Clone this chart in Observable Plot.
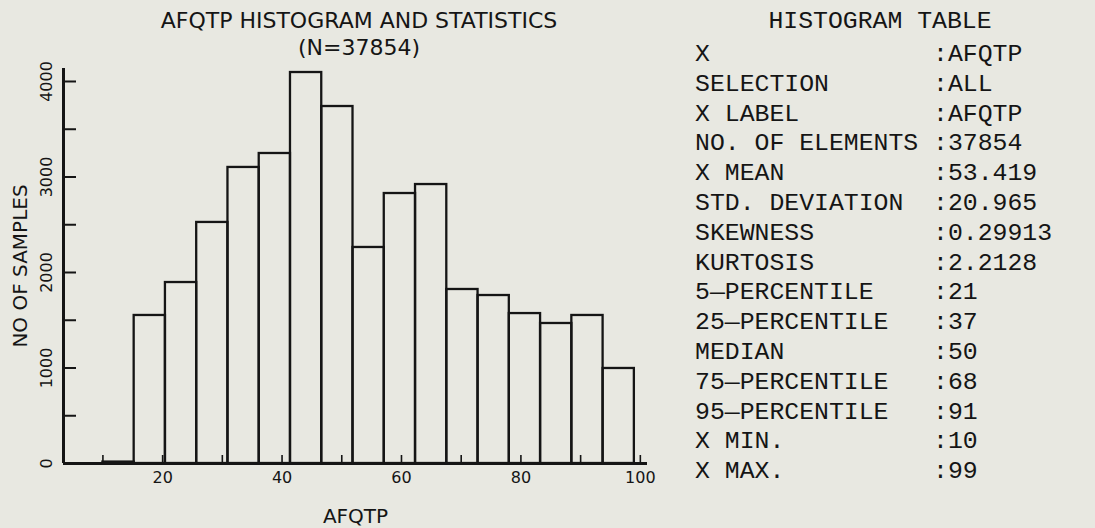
<!DOCTYPE html>
<html><head><meta charset="utf-8">
<script src="https://cdn.jsdelivr.net/npm/d3@7"></script>
<script src="https://cdn.jsdelivr.net/npm/@observablehq/plot@0.6"></script>
<style>
html,body{margin:0;padding:0;background:#e8e8e1;}
#wrap{position:relative;width:1095px;height:528px;overflow:hidden;font-family:"DejaVu Sans",sans-serif;color:#151515;}
#chart{position:absolute;left:0;top:0;}
#title{position:absolute;left:0;width:718px;top:7px;text-align:center;font-size:22px;line-height:27px;z-index:2;}
#tblhead{position:absolute;left:680px;width:400px;top:7px;text-align:center;font-family:"Liberation Mono",monospace;font-size:24.8px;line-height:29.8px;white-space:pre;}
#tbl{position:absolute;left:695px;top:40px;font-family:"Liberation Mono",monospace;font-size:24.8px;line-height:29.8px;white-space:pre;}
</style></head>
<body>
<div id="wrap">
  <div id="chart"></div>
  <div id="title"></div>
  <div id="tblhead"></div>
  <div id="tbl"></div>
</div>
<script>
// ---- data ----
const titleLines = ["AFQTP HISTOGRAM AND STATISTICS", "(N=37854)"];
const xMin = 10, xMax = 99, binCount = 17;
const counts = [15, 1550, 1895, 2524, 3100, 3246, 4094, 3738, 2262, 2827, 2921, 1822, 1759, 1570, 1466, 1550, 995];
const xTickLabels = [20, 40, 60, 80, 100];
const xMinorTicks = [10, 20, 30, 40, 50, 60, 70, 80, 90, 100];
const yTickLabels = [0, 1000, 2000, 3000, 4000];
const yMinorTicks = [0, 500, 1000, 1500, 2000, 2500, 3000, 3500, 4000];
const xLabel = "AFQTP";
const yLabel = "NO OF SAMPLES";
const tableTitle = "HISTOGRAM TABLE";
const tableKeys = ["X", "SELECTION", "X LABEL", "NO. OF ELEMENTS", "X MEAN", "STD. DEVIATION", "SKEWNESS", "KURTOSIS",
  "5\u2014PERCENTILE", "25\u2014PERCENTILE", "MEDIAN", "75\u2014PERCENTILE", "95\u2014PERCENTILE", "X MIN.", "X MAX."];
const tableValues = ["AFQTP", "ALL", "AFQTP", "37854", "53.419", "20.965", "0.29913", "2.2128",
  "21", "37", "50", "68", "91", "10", "99"];

// ---- build ----
document.getElementById("title").innerHTML = titleLines.map(t => `<div>${t}</div>`).join("");
document.getElementById("tblhead").textContent = tableTitle;
document.getElementById("tbl").textContent = tableKeys.map((k, i) => k.padEnd(16, " ") + ":" + tableValues[i]).join("\n");

const binW = (xMax - xMin) / binCount;
const bins = counts.map((c, i) => ({x1: xMin + i * binW, x2: xMin + (i + 1) * binW, count: c}));
const xDomain = [3.4, 101.2];
const ink = "#151515";

const chart = Plot.plot({
  width: 680, height: 528,
  marginLeft: 63, marginRight: 33, marginTop: 68, marginBottom: 65,
  style: {background: "transparent", color: ink, fontFamily: "DejaVu Sans, sans-serif", overflow: "visible"},
  x: {domain: xDomain},
  y: {domain: [0, 4136]},
  marks: [
    Plot.rectY(bins, {x1: "x1", x2: "x2", y: "count", fill: "none", stroke: ink, strokeWidth: 2.3, inset: 0}),
    Plot.axisX(xMinorTicks, {tickSize: -8, strokeWidth: 1.6, tickFormat: () => "", label: null}),
    Plot.axisX(xTickLabels, {tickSize: 0, tickPadding: 8, fontSize: 16, label: null}),
    Plot.axisY(yMinorTicks, {tickSize: -13, strokeWidth: 2, tickFormat: () => "", label: null}),
    Plot.text(yTickLabels, {y: d => d, text: d => String(d), frameAnchor: "left", textAnchor: "middle", lineAnchor: "middle", dx: -17, rotate: -90, fontSize: 16, fill: ink}),
    Plot.text([yLabel], {frameAnchor: "left", textAnchor: "middle", lineAnchor: "middle", dx: -43, rotate: -90, fontSize: 20, fill: ink}),
    Plot.text([xLabel], {frameAnchor: "bottom", dy: 59, fontSize: 20, fill: ink}),
    Plot.ruleY([0], {stroke: ink, strokeWidth: 3}),
    Plot.ruleX([xDomain[0]], {stroke: ink, strokeWidth: 3})
  ]
});
document.getElementById("chart").appendChild(chart);
</script>
</body></html>
